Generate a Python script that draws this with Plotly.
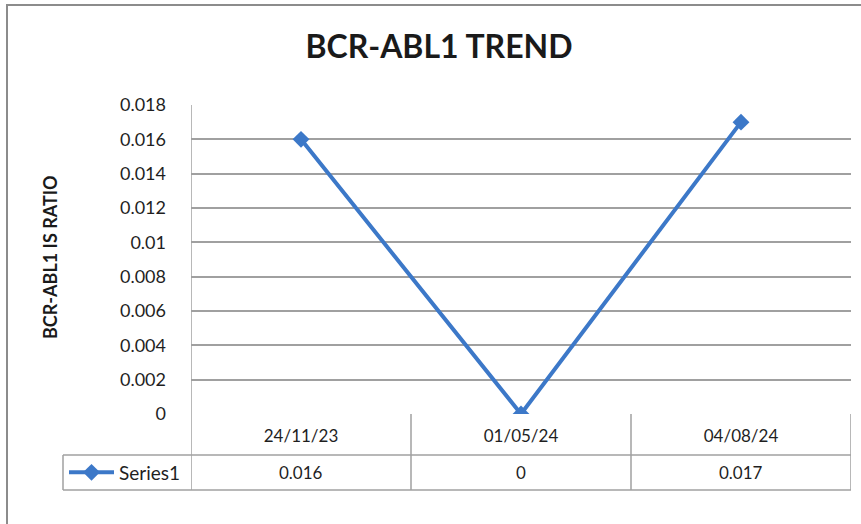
import plotly.graph_objects as go

dates = ["24/11/23", "01/05/24", "04/08/24"]
values = [0.016, 0, 0.017]
series_name = "Series1"
y_ticks = [0, 0.002, 0.004, 0.006, 0.008, 0.01, 0.012, 0.014, 0.016, 0.018]

FONT = "Lato"
BLUE = "#3C78C8"
GRID = "#A0A0A0"
TXT = "#1f1f1f"

# pixel layout helpers
L, R, T, B = 191, 10, 105, 110
W, H = 861, 524
pw = W - L - R
ph = H - T - B

def px_x(X):
    return (X - L) / pw

def px_y(Y):
    return (H - B - Y) / ph

x_idx = list(range(len(dates)))

fig = go.Figure()
fig.add_trace(go.Scatter(
    x=x_idx, y=values, mode="lines+markers", name=series_name,
    line=dict(color=BLUE, width=4),
    marker=dict(symbol="diamond", size=13, color=BLUE),
    showlegend=True,
))

shapes = []
# outer chart border
shapes.append(dict(type="rect", xref="paper", yref="paper",
                   x0=px_x(7), x1=px_x(870), y0=px_y(540), y1=px_y(5),
                   line=dict(color="#8C8C8C", width=2), layer="below"))
# data table lines
row1 = px_y(455)
row2 = px_y(490)
for b in [-0.5, 0.5, 1.5, 2.5]:
    shapes.append(dict(type="line", xref="x", yref="paper", x0=b, x1=b,
                       y0=row2, y1=0 if b != -0.5 else 1,
                       line=dict(color=GRID, width=1.5)))
shapes.append(dict(type="line", xref="paper", yref="paper", x0=px_x(63), x1=1,
                   y0=row1, y1=row1, line=dict(color=GRID, width=1.5)))
shapes.append(dict(type="line", xref="paper", yref="paper", x0=px_x(63), x1=1,
                   y0=row2, y1=row2, line=dict(color=GRID, width=1.5)))
shapes.append(dict(type="line", xref="paper", yref="paper", x0=px_x(63), x1=px_x(63),
                   y0=row2, y1=row1, line=dict(color=GRID, width=1.5)))

annotations = []
for i, v in enumerate(values):
    annotations.append(dict(x=i, y=(row1 + row2) / 2, xref="x", yref="paper",
                            text=format(v, "g"), showarrow=False,
                            xanchor="center", yanchor="middle",
                            font=dict(family=FONT, size=17, color=TXT)))
annotations.append(dict(x=px_x(50), y=px_y(257), xref="paper", yref="paper",
                        text="<b>BCR-ABL1 IS RATIO</b>", textangle=-90,
                        showarrow=False, xanchor="center", yanchor="middle",
                        font=dict(family=FONT, size=18, color="#1a1a1a")))

fig.update_layout(
    width=W, height=H,
    margin=dict(l=L, r=R, t=T, b=B, autoexpand=False),
    paper_bgcolor="white", plot_bgcolor="white",
    title=dict(text="<b>BCR-ABL1 TREND</b>", x=439 / W, xanchor="center",
               y=1 - 47 / H, yanchor="middle",
               font=dict(family=FONT, size=32, color="#1a1a1a")),
    xaxis=dict(range=[-0.5, 2.5], tickvals=x_idx, ticktext=dates,
               showgrid=False, zeroline=False, showline=False, ticks="",
               tickfont=dict(family=FONT, size=17, color=TXT),
               ticklabelstandoff=10),
    yaxis=dict(range=[0, 0.018], tickvals=y_ticks,
               ticktext=[format(t, "g") for t in y_ticks],
               showgrid=True, gridcolor=GRID, gridwidth=1.5,
               zeroline=False, showline=False, ticks="",
               tickfont=dict(family=FONT, size=18, color=TXT),
               ticklabelstandoff=24),
    legend=dict(x=px_x(64), xanchor="left", y=(row1 + row2) / 2, yanchor="middle",
                font=dict(family=FONT, size=19, color=TXT),
                bgcolor="rgba(0,0,0,0)", itemwidth=45, tracegroupgap=0),
    shapes=shapes,
    annotations=annotations,
)

fig.write_html("out.html", config={"displayModeBar": False},
               post_script="document.body.style.margin='0';document.body.style.overflow='hidden';")
